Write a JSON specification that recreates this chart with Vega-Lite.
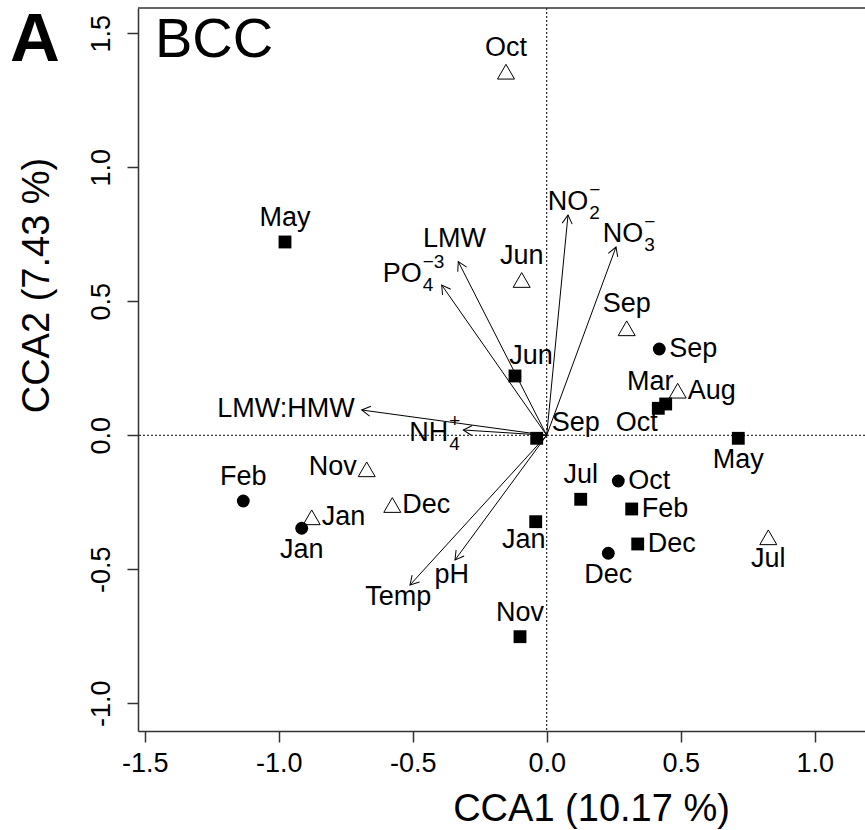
{
  "$schema": "https://vega.github.io/schema/vega-lite/v6.json",
  "width": 727,
  "height": 723,
  "autosize": {"type": "none"},
  "padding": {"left": 138, "top": 8, "right": 0, "bottom": 99},
  "background": "white",
  "config": {
    "view": {"stroke": null},
    "font": "Liberation Sans",
    "axis": {
      "grid": false,
      "domainColor": "#333333",
      "domainWidth": 1.5,
      "tickColor": "#333333",
      "tickWidth": 1.5,
      "tickSize": 11,
      "labelFont": "Liberation Sans",
      "labelFontSize": 27,
      "labelColor": "black",
      "labelFlush": false,
      "labelOverlap": false,
      "titleFont": "Liberation Sans",
      "titleFontSize": 38,
      "titleFontWeight": "normal",
      "titleColor": "black"
    }
  },
  "datasets": {
    "sites": [
      {"m": "May", "type": "square", "x": -0.9765, "y": 0.7213, "pos": "above"},
      {"m": "Jun", "type": "square", "x": -0.1183, "y": 0.2213, "pos": "aboveright"},
      {"m": "Sep", "type": "square", "x": -0.0373, "y": -0.0112, "pos": "upright"},
      {"m": "Mar", "type": "square", "x": 0.4164, "y": 0.1007, "pos": "aboveleft"},
      {"m": "Oct", "type": "square", "x": 0.444, "y": 0.1168, "pos": "lowleft"},
      {"m": "May", "type": "square", "x": 0.7149, "y": -0.0112, "pos": "below"},
      {"m": "Jul", "type": "square", "x": 0.1269, "y": -0.2388, "pos": "above"},
      {"m": "Jan", "type": "square", "x": -0.041, "y": -0.3224, "pos": "belowleft"},
      {"m": "Feb", "type": "square", "x": 0.3172, "y": -0.275, "pos": "right"},
      {"m": "Dec", "type": "square", "x": 0.3396, "y": -0.4056, "pos": "right"},
      {"m": "Nov", "type": "square", "x": -0.0996, "y": -0.7515, "pos": "above"},
      {"m": "Sep", "type": "circle", "x": 0.4201, "y": 0.322, "pos": "right"},
      {"m": "Oct", "type": "circle", "x": 0.2672, "y": -0.1705, "pos": "right"},
      {"m": "Dec", "type": "circle", "x": 0.2299, "y": -0.4403, "pos": "below"},
      {"m": "Feb", "type": "circle", "x": -1.1321, "y": -0.2451, "pos": "above"},
      {"m": "Jan", "type": "circle", "x": -0.9142, "y": -0.347, "pos": "below"},
      {"m": "Oct", "type": "triangle", "x": -0.1519, "y": 1.3567, "pos": "above"},
      {"m": "Jun", "type": "triangle", "x": -0.0933, "y": 0.5795, "pos": "above"},
      {"m": "Sep", "type": "triangle", "x": 0.2985, "y": 0.3993, "pos": "above"},
      {"m": "Aug", "type": "triangle", "x": 0.4888, "y": 0.1664, "pos": "right"},
      {"m": "Nov", "type": "triangle", "x": -0.6716, "y": -0.1269, "pos": "left"},
      {"m": "Dec", "type": "triangle", "x": -0.5761, "y": -0.2601, "pos": "right"},
      {"m": "Jan", "type": "triangle", "x": -0.8769, "y": -0.306, "pos": "right"},
      {"m": "Jul", "type": "triangle", "x": 0.8269, "y": -0.3806, "pos": "below"}
    ],
    "arrows": [
      {"v": "NO2", "x": 0.0795, "y": 0.822, "lx": 0.1552, "ly": 0.8687, "main": "NO", "sub": "2", "sup": "−"},
      {"v": "NO3", "x": 0.2586, "y": 0.7026, "lx": 0.3605, "ly": 0.7511, "main": "NO", "sub": "3", "sup": "−"},
      {"v": "LMW", "x": -0.3299, "y": 0.6478, "lx": -0.344, "ly": 0.7325, "main": "LMW", "sub": "", "sup": ""},
      {"v": "PO4", "x": -0.3918, "y": 0.5608, "lx": -0.4664, "ly": 0.6019, "main": "PO", "sub": "4", "sup": "−3"},
      {"v": "LMW:HMW", "x": -0.6903, "y": 0.0944, "lx": -0.9728, "ly": 0.0996, "main": "LMW:HMW", "sub": "", "sup": ""},
      {"v": "NH4", "x": -0.3112, "y": 0.0198, "lx": -0.3672, "ly": 0.0104, "main": "NH", "sub": "4", "sup": "+"},
      {"v": "Temp", "x": -0.5101, "y": -0.5586, "lx": -0.5537, "ly": -0.6052, "main": "Temp", "sub": "", "sup": ""},
      {"v": "pH", "x": -0.3422, "y": -0.4653, "lx": -0.3545, "ly": -0.5231, "main": "pH", "sub": "", "sup": ""}
    ]
  },
  "encoding": {
    "x": {
      "field": "x", "type": "quantitative",
      "scale": {"domain": [-1.525, 1.1877], "nice": false, "zero": false},
      "axis": {
        "values": [-1.5, -1, -0.5, 0, 0.5, 1],
        "labelExpr": "datum.value < 0 ? '-' + format(-datum.value, '.1f') : format(datum.value, '.1f')",
        "labelAlign": "center",
        "labelBaseline": "alphabetic",
        "labelPadding": 29,
        "title": "CCA1 (10.17 %)",
        "titleX": 453,
        "titleY": 89,
        "titleAlign": "center",
        "titleBaseline": "alphabetic"
      }
    },
    "y": {
      "field": "y", "type": "quantitative",
      "scale": {"domain": [-1.1034, 1.5944], "nice": false, "zero": false},
      "axis": {
        "values": [-1, -0.5, 0, 0.5, 1, 1.5],
        "labelExpr": "datum.value < 0 ? '-' + format(-datum.value, '.1f') : format(datum.value, '.1f')",
        "labelAngle": -90,
        "labelAlign": "center",
        "labelBaseline": "alphabetic",
        "labelPadding": 18,
        "title": "CCA2  (7.43 %)",
        "titleAngle": -90,
        "titleX": -90,
        "titleY": 277,
        "titleAlign": "center",
        "titleBaseline": "alphabetic"
      }
    }
  },
  "layer": [
    {
      "data": {"values": [{"x": 0}]},
      "mark": {"type": "rule", "color": "black", "strokeWidth": 1, "strokeDash": [2, 2]},
      "encoding": {"y": null}
    },
    {
      "data": {"values": [{"y": 0}]},
      "mark": {"type": "rule", "color": "black", "strokeWidth": 1, "strokeDash": [2, 2]},
      "encoding": {"x": null}
    },
    {
      "data": {"values": [{"y": 1.5944}]},
      "mark": {"type": "rule", "color": "#333333", "strokeWidth": 1.5},
      "encoding": {"x": null}
    },
    {
      "data": {"name": "arrows"},
      "mark": {"type": "rule", "color": "black", "strokeWidth": 1},
      "encoding": {
        "x2": {"datum": 0},
        "y2": {"datum": 0}
      }
    },
    {
      "data": {"name": "arrows"},
      "transform": [{"calculate": "90 - atan2(datum.y, datum.x) * 180 / PI", "as": "ang"}],
      "mark": {"type": "point", "shape": "M-0.5,0.866L0,0L0.5,0.866", "filled": false, "stroke": "black", "strokeWidth": 1, "size": 400, "opacity": 1},
      "encoding": {
        "angle": {"field": "ang", "type": "quantitative", "scale": null}
      }
    },
    {
      "data": {"name": "sites"},
      "transform": [{"filter": "datum.type !== 'triangle'"}],
      "mark": {"type": "point", "filled": true, "size": 165, "opacity": 1, "color": "black"},
      "encoding": {
        "shape": {"field": "type", "type": "nominal", "scale": {"domain": ["square", "circle"], "range": ["square", "circle"]}, "legend": null}
      }
    },
    {
      "data": {"name": "sites"},
      "transform": [{"filter": "datum.type === 'triangle'"}],
      "mark": {"type": "point", "shape": "triangle-up", "filled": false, "size": 289, "stroke": "black", "strokeWidth": 1, "opacity": 1}
    },
    {
      "data": {"name": "sites"},
      "transform": [{"filter": "datum.pos === 'above'"}],
      "mark": {"type": "text", "align": "center", "baseline": "middle", "fontSize": 27, "color": "black", "dy": -24},
      "encoding": {"text": {"field": "m", "type": "nominal"}}
    },
    {
      "data": {"name": "sites"},
      "transform": [{"filter": "datum.pos === 'below'"}],
      "mark": {"type": "text", "align": "center", "baseline": "middle", "fontSize": 27, "color": "black", "dy": 22},
      "encoding": {"text": {"field": "m", "type": "nominal"}}
    },
    {
      "data": {"name": "sites"},
      "transform": [{"filter": "datum.pos === 'right'"}],
      "mark": {"type": "text", "align": "left", "baseline": "middle", "fontSize": 27, "color": "black", "dx": 10},
      "encoding": {"text": {"field": "m", "type": "nominal"}}
    },
    {
      "data": {"name": "sites"},
      "transform": [{"filter": "datum.pos === 'left'"}],
      "mark": {"type": "text", "align": "right", "baseline": "middle", "fontSize": 27, "color": "black", "dx": -10, "dy": -2},
      "encoding": {"text": {"field": "m", "type": "nominal"}}
    },
    {
      "data": {"name": "sites"},
      "transform": [{"filter": "datum.pos === 'aboveright'"}],
      "mark": {"type": "text", "align": "center", "baseline": "middle", "fontSize": 27, "color": "black", "dx": 16, "dy": -20},
      "encoding": {"text": {"field": "m", "type": "nominal"}}
    },
    {
      "data": {"name": "sites"},
      "transform": [{"filter": "datum.pos === 'upright'"}],
      "mark": {"type": "text", "align": "left", "baseline": "middle", "fontSize": 27, "color": "black", "dx": 15, "dy": -15},
      "encoding": {"text": {"field": "m", "type": "nominal"}}
    },
    {
      "data": {"name": "sites"},
      "transform": [{"filter": "datum.pos === 'aboveleft'"}],
      "mark": {"type": "text", "align": "center", "baseline": "middle", "fontSize": 27, "color": "black", "dx": -8, "dy": -26},
      "encoding": {"text": {"field": "m", "type": "nominal"}}
    },
    {
      "data": {"name": "sites"},
      "transform": [{"filter": "datum.pos === 'lowleft'"}],
      "mark": {"type": "text", "align": "right", "baseline": "middle", "fontSize": 27, "color": "black", "dx": -8, "dy": 19},
      "encoding": {"text": {"field": "m", "type": "nominal"}}
    },
    {
      "data": {"name": "sites"},
      "transform": [{"filter": "datum.pos === 'belowleft'"}],
      "mark": {"type": "text", "align": "center", "baseline": "middle", "fontSize": 27, "color": "black", "dx": -12, "dy": 18},
      "encoding": {"text": {"field": "m", "type": "nominal"}}
    },
    {
      "data": {"name": "arrows"},
      "transform": [{"filter": "datum.sub === ''"}, {"calculate": "datum.lx", "as": "x"}, {"calculate": "datum.ly", "as": "y"}],
      "mark": {"type": "text", "align": "center", "baseline": "middle", "fontSize": 27, "color": "black"},
      "encoding": {"text": {"field": "main", "type": "nominal"}}
    },
    {
      "data": {"name": "arrows"},
      "transform": [{"filter": "datum.sub !== ''"}, {"calculate": "datum.lx", "as": "x"}, {"calculate": "datum.ly", "as": "y"}],
      "mark": {"type": "text", "align": "right", "baseline": "middle", "fontSize": 27, "color": "black"},
      "encoding": {"text": {"field": "main", "type": "nominal"}}
    },
    {
      "data": {"name": "arrows"},
      "transform": [{"filter": "datum.sub !== ''"}, {"calculate": "datum.lx", "as": "x"}, {"calculate": "datum.ly", "as": "y"}],
      "mark": {"type": "text", "align": "left", "baseline": "middle", "fontSize": 19, "color": "black", "dx": 1, "dy": 11},
      "encoding": {"text": {"field": "sub", "type": "nominal"}}
    },
    {
      "data": {"name": "arrows"},
      "transform": [{"filter": "datum.sup !== ''"}, {"calculate": "datum.lx", "as": "x"}, {"calculate": "datum.ly", "as": "y"}],
      "mark": {"type": "text", "align": "left", "baseline": "middle", "fontSize": 19, "color": "black", "dx": 1, "dy": -12},
      "encoding": {"text": {"field": "sup", "type": "nominal"}}
    },
    {
      "data": {"values": [{"label": "BCC", "x": -1.4616, "y": 1.4116}, {"label": "A", "x": -2.0026, "y": 1.3966}]},
      "transform": [{"filter": "datum.label === 'BCC'"}],
      "mark": {"type": "text", "align": "left", "baseline": "alphabetic", "fontSize": 56, "color": "black"},
      "encoding": {"text": {"field": "label", "type": "nominal"}}
    },
    {
      "data": {"values": [{"label": "BCC", "x": -1.4616, "y": 1.4116}, {"label": "A", "x": -2.0026, "y": 1.3966}]},
      "transform": [{"filter": "datum.label === 'A'"}],
      "mark": {"type": "text", "align": "left", "baseline": "alphabetic", "fontSize": 69, "fontWeight": "bold", "color": "black"},
      "encoding": {"text": {"field": "label", "type": "nominal"}}
    }
  ]
}
